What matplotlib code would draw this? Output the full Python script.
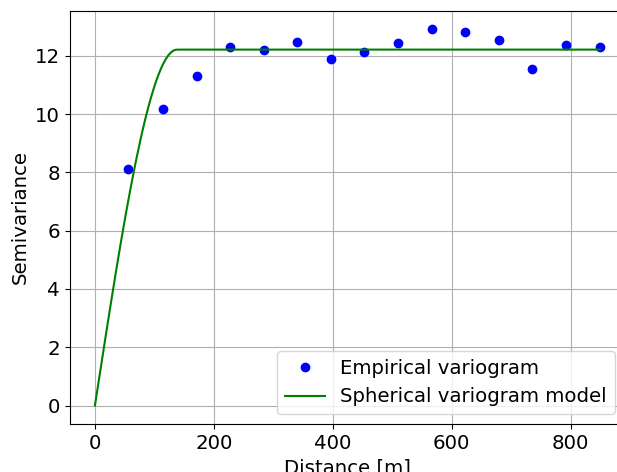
import numpy as np
import matplotlib
matplotlib.use("Agg")
import matplotlib.pyplot as plt

# empirical variogram (lag distance [m], semivariance)
lags = [56.1, 113.8, 170.9, 226.4, 284.0, 339.5, 396.6, 452.8,
        509.9, 567.0, 622.5, 680.2, 735.6, 792.8, 848.7]
semivar = [8.11, 10.16, 11.30, 12.29, 12.19, 12.47, 11.89, 12.14,
           12.45, 12.90, 12.81, 12.54, 11.54, 12.38, 12.29]

# fitted spherical model parameters
sill = 12.21
vrange = 138.0
nugget = 0.0


def spherical(h, a, c, n=0.0):
    h = np.asarray(h, dtype=float)
    g = n + c * (1.5 * h / a - 0.5 * (h / a) ** 3)
    return np.where(h < a, g, n + c)


h = np.linspace(0, max(lags), 200)

plt.rcParams["font.size"] = 14.25

fig = plt.figure(figsize=(6.17, 4.72), dpi=100)
ax = fig.add_axes([69.7 / 617, 47.7 / 472, 555.1 / 617, 413.6 / 472])
ax.plot(lags, semivar, "bo", label="Empirical variogram")
ax.plot(h, spherical(h, vrange, sill, nugget), "g-", label="Spherical variogram model")
ax.set_xlabel("Distance [m]")
ax.set_ylabel("Semivariance")
ax.grid(True)
ax.legend(loc="lower right")
fig.savefig("out.png", dpi=100)
